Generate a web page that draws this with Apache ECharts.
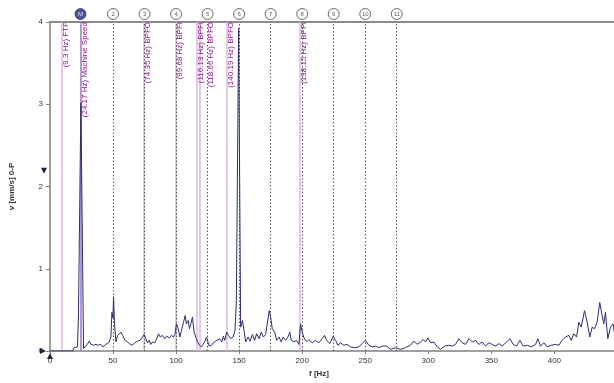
<!DOCTYPE html>
<html>
<head>
<meta charset="utf-8">
<script src="https://cdn.jsdelivr.net/npm/echarts@6/dist/echarts.min.js"></script>
<style>html,body{margin:0;padding:0;background:#fff;overflow:hidden}#c{width:614px;height:383px}</style>
</head>
<body>
<div id="c"></div>
<script>
// Spectrum (frequency in Hz, velocity in mm/s 0-P)
const freqHz = [0,18,19,21.8,22.6,24.5,26.6,27.2,29.5,31.2,32.5,34.6,36.4,38.3,40.4,41.7,43.5,45.1,47,48.3,49.1,49.9,50.4,51.2,52.3,53.6,54.9,56.2,57.6,59.4,61.5,63.6,65.4,67.3,69.4,71.5,73.4,74.7,76.0,77.3,78.6,79.9,81.3,83.1,84.7,86.0,87.4,89.2,91.0,92.6,94.5,96.3,97.9,99.0,100.3,101.7,103,104.3,105.9,107.2,108.2,109.6,110.6,111.7,113,114.3,115.6,117,118.5,120.1,121.4,122.7,124.1,124.8,126.2,128,129.6,131.4,132.7,134.6,136.2,137.5,138.6,140.1,141.5,143.3,145.2,146.7,147.8,149.6,151.2,152.6,153.9,155.2,157.1,158.6,160.5,162.3,163.9,165.8,167.6,169.2,171.0,172.3,173.9,175,176.3,178.2,179.7,181.6,183.4,185,186.8,188.7,190.2,191.3,193.4,195.5,197.4,198.7,200,201.4,203.5,205.3,208,210.6,213.3,215.9,217.7,219.3,222,224.6,226.5,228.3,230.4,233,235.7,238.3,241.5,244.9,247.6,250.2,252.9,255.5,258.2,260.8,263.4,266.9,270.1,274.0,278,281.9,285.9,288.6,291.2,293.9,296,297.8,299.7,301.8,304.4,307.1,309.7,312.9,316.3,319,321.6,324.3,326.9,329.6,332.2,334.8,337.5,340.1,342.8,345.4,348.1,350.7,353.3,356,358.6,362.1,364.7,367.4,370,372.7,375.3,378.5,381.6,385.1,386.9,389,391.7,394.3,397.5,400.9,403.6,406.2,408.8,411.5,413.3,415.5,417.6,419.4,421.3,423.9,426,428.1,430,431.8,433.9,436,437.9,439.2,440.5,442.4,444.5,446.6,447.7];
const velocity = [0,0,0.04,0.05,0.45,3.02,0.03,0.04,0.08,0.12,0.08,0.07,0.08,0.07,0.08,0.05,0.07,0.09,0.11,0.17,0.47,0.4,0.66,0.33,0.11,0.19,0.17,0.23,0.19,0.13,0.11,0.08,0.07,0.10,0.12,0.13,0.17,0.2,0.15,0.10,0.13,0.08,0.11,0.10,0.15,0.21,0.17,0.19,0.15,0.18,0.16,0.19,0.17,0.2,0.33,0.27,0.17,0.25,0.35,0.43,0.33,0.37,0.27,0.33,0.41,0.23,0.17,0.11,0.07,0.05,0.08,0.11,0.17,0.17,0.06,0.07,0.10,0.12,0.10,0.15,0.11,0.18,0.13,0.23,0.19,0.15,0.17,0.25,0.61,3.92,0.29,0.37,0.25,0.11,0.17,0.12,0.2,0.13,0.21,0.15,0.23,0.17,0.2,0.18,0.49,0.41,0.27,0.23,0.13,0.17,0.11,0.17,0.13,0.17,0.23,0.13,0.11,0.13,0.08,0.33,0.23,0.16,0.11,0.14,0.10,0.13,0.10,0.15,0.19,0.13,0.09,0.18,0.13,0.07,0.10,0.07,0.08,0.05,0.04,0.05,0.09,0.13,0.07,0.05,0.06,0.04,0.06,0.06,0.02,0.04,0.02,0.04,0.07,0.12,0.08,0.11,0.14,0.11,0.16,0.10,0.11,0.05,0.02,0.06,0.07,0.06,0.08,0.15,0.10,0.08,0.15,0.11,0.13,0.08,0.11,0.06,0.10,0.08,0.06,0.09,0.06,0.11,0.15,0.08,0.06,0.13,0.06,0.07,0.05,0.08,0.15,0.06,0.10,0.05,0.07,0.08,0.07,0.13,0.17,0.19,0.13,0.21,0.17,0.35,0.29,0.49,0.35,0.17,0.29,0.27,0.35,0.59,0.43,0.33,0.47,0.15,0.29,0.33,0.21];

// Fault frequency cursors
const faultFreqs = [9.3, 24.17, 74.35, 99.68, 116.13, 118.66, 140.19, 198.15];
const faultLabels = ['(9.3 Hz) FTF', '(24.17 Hz) Machine Speed', '(74.35 Hz) BPFO', '(99.68 Hz) BPFI', '(116.13 Hz) BPFI', '(118.66 Hz) BPFO', '(140.19 Hz) BPFO', '(198.15 Hz) BPFI'];

// Harmonic cursors
const harmonicFreqs = [50, 75, 100, 125, 150, 175, 200, 225, 250, 275];
const harmonicNums = ['2', '3', '4', '5', '6', '7', '8', '9', '10', '11'];
const machineFreq = 24.17;

// Level / reference markers on the axes
const alarmLevel = 2.19;

// Axis
const xMax = 447.3;
const yTicks = [0, 1, 2, 3, 4];

const spectrum = freqHz.map((f, i) => [f, velocity[i]]);

const faultLines = faultFreqs.map((f, i) => {
  const isMachine = i === 1;
  return {
    xAxis: f,
    lineStyle: { color: isMachine ? '#9a72cc' : '#dbb8df', width: 1.5, type: 'solid' },
    label: {
      formatter: faultLabels[i],
      distance: i === 5 ? [0, 7] : [0, 0]
    }
  };
});

const circleData = harmonicFreqs.map((f, i) => ({ value: [f, 4], name: harmonicNums[i] }));
circleData.unshift({
  value: [machineFreq, 4], name: 'M',
  itemStyle: { color: '#1f2a7a', borderColor: '#1f2a7a' },
  label: { color: '#fff' }
});

const chart = echarts.init(document.getElementById('c'), null, { renderer: 'canvas' });
chart.setOption({
  animation: false,
  backgroundColor: '#fff',
  textStyle: { fontFamily: 'Liberation Sans' },
  grid: { left: 49, right: 0, top: 22, bottom: 28, containLabel: false },
  xAxis: [{
    type: 'value', min: 0, max: xMax, interval: 50,
    axisLine: { show: true, lineStyle: { color: '#808080', width: 1.5 } },
    axisTick: { show: true, length: 3, lineStyle: { color: '#808080' } },
    axisLabel: { fontSize: 8, color: '#333', margin: 6, showMaxLabel: false },
    splitLine: { show: false },
    name: 'f [Hz]', nameLocation: 'middle', nameGap: 19,
    nameTextStyle: { fontSize: 8, fontWeight: 'bold', color: '#333', padding: [0, 26, 0, 0] }
  }, {
    type: 'value', min: 0, max: xMax, position: 'top',
    axisLine: { show: true, lineStyle: { color: '#8a8a8a', width: 2 } },
    axisTick: { show: false }, axisLabel: { show: false }, splitLine: { show: false }
  }],
  yAxis: {
    type: 'value', min: yTicks[0], max: yTicks[yTicks.length - 1], interval: 1,
    axisLine: { show: true, lineStyle: { color: '#808080', width: 1.5 } },
    axisTick: { show: true, length: 4, lineStyle: { color: '#808080' } },
    axisLabel: { fontSize: 8, color: '#333', margin: 7 },
    splitLine: { show: false },
    name: 'v [mm/s] 0-P', nameLocation: 'middle', nameGap: 34,
    nameTextStyle: { fontSize: 8, fontWeight: 'bold', color: '#333' }
  },
  series: [{
    type: 'line',
    data: spectrum,
    symbol: 'none',
    z: 4,
    lineStyle: { color: '#2d2d6b', width: 1 },
    markLine: {
      silent: true, symbol: 'none', animation: false, z: 2,
      label: {
        show: true, position: 'insideEndBottom',
        color: '#8a158a', fontSize: 8, fontFamily: 'Liberation Sans'
      },
      data: faultLines
    },
    markPoint: {
      silent: true, animation: false,
      symbol: 'triangle', symbolSize: 6,
      itemStyle: { color: '#1f2340' },
      label: { show: false },
      data: [
        { coord: [0, 0], symbolRotate: -90, symbolOffset: [-7, 0] },
        { coord: [0, 0], symbolRotate: 0, symbolOffset: [0, 5] },
        { coord: [0, alarmLevel], symbolRotate: 180, symbolOffset: [-6, 0] }
      ]
    }
  }, {
    type: 'scatter',
    data: circleData,
    clip: false,
    symbol: 'circle',
    symbolSize: 11,
    symbolOffset: [0, -8],
    z: 6,
    itemStyle: { color: '#fff', borderColor: '#333', borderWidth: 0.9 },
    label: {
      show: true, position: 'inside',
      formatter: p => p.name, fontSize: 6, color: '#333'
    },
    markLine: {
      silent: true, symbol: 'none', animation: false, z: 3,
      label: { show: false },
      lineStyle: { color: '#555', width: 1, type: [1.5, 2] },
      data: harmonicFreqs.map(f => ({ xAxis: f }))
    }
  }]
});
</script>
</body>
</html>
